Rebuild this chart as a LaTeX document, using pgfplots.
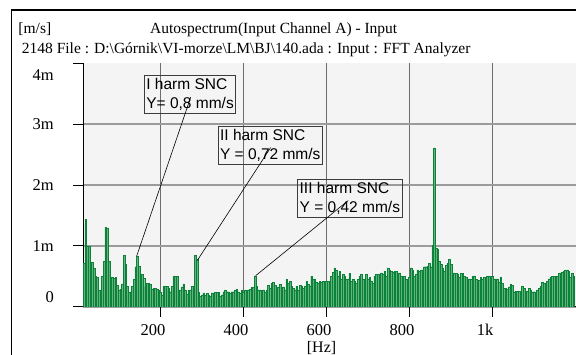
\documentclass[border=0pt]{standalone}
\usepackage{pgfplots}
\pgfplotsset{compat=1.18}
\usepackage{pgfplotstable}
\usepackage{fontspec}
\setmainfont{Liberation Serif}
\newfontfamily\arial{Liberation Sans}
\definecolor{bardark}{RGB}{10,130,55}
\definecolor{barfill}{RGB}{100,178,128}
\definecolor{plotbg}{RGB}{244,244,244}
\definecolor{hgrid}{RGB}{155,155,155}
\definecolor{vgrid}{RGB}{110,110,110}

\pgfplotstableread{
x y
14 0.71
18 1.44
22 1.00
26 1.00
30 0.36
34 0.73
38 0.63
42 0.50
46 0.48
50 0.27
54 0.27
58 0.50
62 0.75
66 1.31
70 1.29
74 0.75
78 0.48
82 0.48
86 0.47
90 0.48
94 0.36
98 0.28
102 0.29
106 0.38
110 0.85
114 0.70
118 0.34
122 0.24
126 0.25
130 0.34
134 0.45
138 0.66
142 0.83
146 0.67
150 0.48
154 0.54
158 0.47
162 0.34
166 0.39
170 0.39
174 0.37
178 0.29
182 0.30
186 0.30
190 0.29
194 0.28
198 0.24
202 0.20
206 0.34
210 0.34
214 0.34
218 0.30
222 0.25
226 0.34
230 0.50
234 0.50
238 0.50
242 0.20
246 0.28
250 0.33
254 0.38
258 0.28
262 0.21
266 0.28
270 0.28
274 0.34
278 0.25
282 0.85
286 0.78
290 0.24
294 0.17
298 0.20
302 0.23
306 0.20
310 0.22
314 0.20
318 0.17
322 0.23
326 0.20
330 0.24
334 0.24
338 0.24
342 0.17
346 0.20
350 0.25
354 0.28
358 0.25
362 0.25
366 0.23
370 0.25
374 0.25
378 0.28
382 0.29
386 0.25
390 0.23
394 0.28
398 0.25
402 0.28
406 0.23
410 0.28
414 0.29
418 0.32
422 0.32
426 0.51
430 0.34
434 0.28
438 0.28
442 0.20
446 0.28
450 0.24
454 0.28
458 0.35
462 0.31
466 0.39
470 0.40
474 0.35
478 0.28
482 0.33
486 0.37
490 0.31
494 0.33
498 0.28
502 0.45
506 0.39
510 0.42
514 0.34
518 0.31
522 0.28
526 0.34
530 0.28
534 0.35
538 0.34
542 0.31
546 0.34
550 0.42
554 0.37
558 0.34
562 0.50
566 0.45
570 0.46
574 0.40
578 0.39
582 0.42
586 0.40
590 0.42
594 0.42
598 0.42
602 0.42
606 0.42
610 0.50
614 0.57
618 0.64
622 0.60
626 0.50
630 0.59
634 0.46
638 0.53
642 0.50
646 0.45
650 0.46
654 0.55
658 0.42
662 0.45
666 0.42
670 0.39
674 0.45
678 0.50
682 0.53
686 0.45
690 0.42
694 0.53
698 0.45
702 0.48
706 0.43
710 0.39
714 0.50
718 0.53
722 0.53
726 0.45
730 0.56
734 0.53
738 0.59
742 0.50
746 0.64
750 0.61
754 0.59
758 0.57
762 0.59
766 0.59
770 0.50
774 0.56
778 0.50
782 0.45
786 0.50
790 0.45
794 0.42
798 0.48
802 0.64
806 0.61
810 0.50
814 0.53
818 0.61
822 0.59
826 0.61
830 0.61
834 0.66
838 0.66
842 0.67
846 0.72
850 0.66
854 1.01
858 2.61
862 0.97
866 0.95
870 0.75
874 0.70
878 0.64
882 0.58
886 0.68
890 0.72
894 0.78
898 0.70
902 0.56
906 0.56
910 0.55
914 0.53
918 0.48
922 0.55
926 0.55
930 0.50
934 0.48
938 0.45
942 0.46
946 0.45
950 0.50
954 0.51
958 0.45
962 0.44
966 0.44
970 0.48
974 0.46
978 0.48
982 0.45
986 0.51
990 0.50
994 0.45
998 0.50
1002 0.46
1006 0.46
1010 0.46
1014 0.40
1018 0.48
1022 0.39
1026 0.31
1030 0.31
1034 0.29
1038 0.33
1042 0.37
1046 0.35
1050 0.25
1054 0.26
1058 0.26
1062 0.26
1066 0.26
1070 0.34
1074 0.31
1078 0.24
1082 0.26
1086 0.31
1090 0.28
1094 0.24
1098 0.25
1102 0.24
1106 0.28
1110 0.31
1114 0.34
1118 0.40
1122 0.39
1126 0.38
1130 0.42
1134 0.46
1138 0.49
1142 0.50
1146 0.50
1150 0.50
1154 0.50
1158 0.55
1162 0.56
1166 0.57
1170 0.59
1174 0.60
1178 0.61
1182 0.59
1186 0.49
1190 0.55
1194 0.50
1198 0.50
}\spec

\tikzset{annot/.style={draw={rgb,255:red,60;green,60;blue,60}, line width=0.8bp,
  anchor=north west, align=left, inner xsep=2bp, inner ysep=3bp,
  font=\arial\fontsize{15.5bp}{19bp}\selectfont}}

\begin{document}
\begin{tikzpicture}
\path[use as bounding box] (0,0) rectangle (576bp,355bp);
\draw[line width=1.2bp] (11.7bp,-5bp) -- (11.7bp,345bp) -- (590bp,345bp);
\node[anchor=base west, inner sep=0pt, font=\fontsize{15.5bp}{18bp}\selectfont] at (18.3bp,321.7bp) {[m/s]};
\node[anchor=base west, inner sep=0pt, font=\fontsize{15.5bp}{18bp}\selectfont] at (150bp,321.7bp) {Autospectrum(Input Channel A) - Input};
\node[anchor=base west, inner sep=0pt, font=\fontsize{15.5bp}{18bp}\selectfont] at (21.7bp,301.7bp) {2148 File : D:\textbackslash G\'ornik\textbackslash VI-morze\textbackslash LM\textbackslash BJ\textbackslash 140.ada : Input : FFT Analyzer};
\node[anchor=base west, inner sep=0pt, font=\fontsize{16bp}{18bp}\selectfont] at (306.7bp,3bp) {[Hz]};
\begin{axis}[
  at={(83bp,48bp)}, anchor=south west,
  scale only axis, width=492.5bp, height=244bp,
  xmin=13.25, xmax=1200, ymin=0, ymax=4,
  axis x line=bottom, axis y line=left,
  axis line style={-, line width=1bp, black},
  axis background/.style={fill=plotbg},
  xtick={200,400,600,800,1000}, xticklabels={200,400,600,800,1k},
  ytick={0,1,2,3}, yticklabels={\raisebox{9.5bp}{0},1m,2m,3m},
  extra y ticks={4}, extra y tick labels={\raisebox{-12bp}{4m}},
  extra y tick style={grid=none},
  tick align=outside, major tick length=10bp,
  tick style={black, line width=1bp},
  grid=major,
  major x grid style={vgrid, line width=0.8bp},
  major y grid style={hgrid, line width=1.5bp},
  ticklabel style={font=\fontsize{16.5bp}{19bp}\selectfont, inner sep=0pt},
  xticklabel style={anchor=base, xshift=-7.5bp, yshift=-18bp},
  yticklabel style={anchor=base east, xshift=-19bp, yshift=-5.5bp},
  /pgf/number format/assume math mode=true,
]
\addplot[ybar interval, fill=barfill, draw=bardark, line width=0.45bp] table[x=x,y=y] {\spec};
\node[annot] at (axis cs:160.2,3.80) {I harm SNC\\Y= 0,8 mm/s};
\node[annot] at (axis cs:337.8,2.963) {II harm SNC\\Y = 0,72 mm/s};
\node[annot] at (axis cs:529.6,2.106) {III harm SNC\\Y = 0,42 mm/s};
\draw[line width=0.6bp] (axis cs:142.6,0.834) -- (axis cs:272.8,3.44);
\draw[line width=0.6bp] (axis cs:288.7,0.763) -- (axis cs:465.5,2.615);
\draw[line width=0.6bp] (axis cs:429.4,0.514) -- (axis cs:652.5,1.746);
\end{axis}
\end{tikzpicture}
\end{document}
